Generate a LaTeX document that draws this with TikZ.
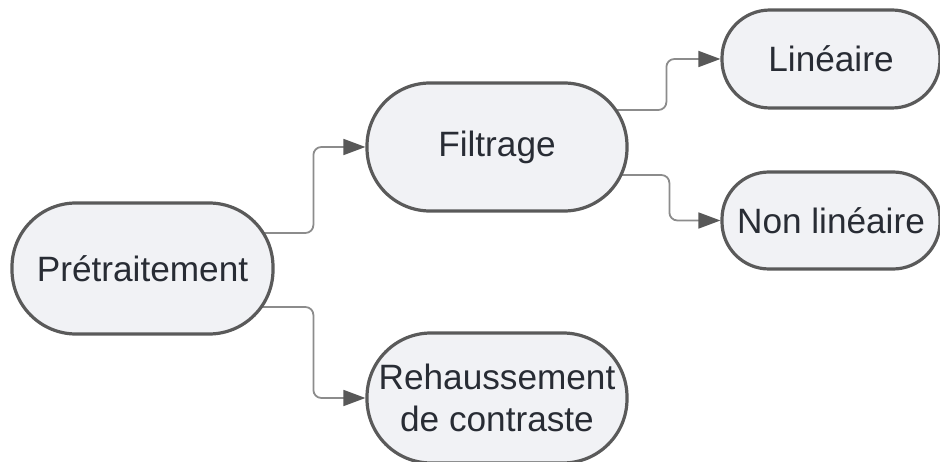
\documentclass[tikz,border=0pt]{standalone}
\usepackage{fontspec}
\setmainfont{Liberation Sans}
\usetikzlibrary{arrows.meta,backgrounds}

\definecolor{boxfill}{RGB}{241,242,245}
\definecolor{boxline}{RGB}{90,90,90}
\definecolor{linkline}{RGB}{140,140,140}
\definecolor{tipgray}{RGB}{88,88,88}
\definecolor{textdark}{RGB}{40,44,52}

\tikzset{
  box/.style={draw=boxline, fill=boxfill, line width=3.2pt, text=textdark,
    font=\fontsize{35.2pt}{41.4pt}\selectfont, align=center, inner sep=0pt},
  link/.style={draw=linkline, line width=1.8pt, rounded corners=8pt,
    -{Triangle[length=22pt,width=16pt,color=tipgray]}}
}

\begin{document}
\begin{tikzpicture}[x=1pt,y=1pt]
\useasboundingbox (0,0) rectangle (940,461);

% processing steps
\node[box, minimum width=261pt, minimum height=131pt, rounded corners=64pt] (pre) at (142.5,192.5) {Prétraitement};
\node[box, minimum width=260pt, minimum height=128pt, rounded corners=63pt] (filt) at (497,314) {Filtrage};
\node[box, minimum width=218pt, minimum height=98pt, rounded corners=48pt] (lin) at (831,402) {Linéaire};
\node[box, minimum width=218pt, minimum height=97pt, rounded corners=47pt] (nonlin) at (831,240.5) {Non linéaire};
\node[box, minimum width=260pt, minimum height=130pt, rounded corners=64pt] (reh) at (497,63) {Rehaussement\\de contraste};

% elbow connectors, drawn behind the boxes
\begin{scope}[on background layer]
  \draw[link] ([yshift=35.5pt]pre.center) -| ([xshift=-52pt]filt.west) -- (filt.west);
  \draw[link] ([yshift=-38.5pt]pre.center) -| ([xshift=-52pt]reh.west) -- (reh.west);
  \draw[link] ([yshift=37pt]filt.center) -| ([xshift=-54pt]lin.west) -- (lin.west);
  \draw[link] ([yshift=-28pt]filt.center) -| ([xshift=-51pt]nonlin.west) -- (nonlin.west);
\end{scope}
\end{tikzpicture}
\end{document}
